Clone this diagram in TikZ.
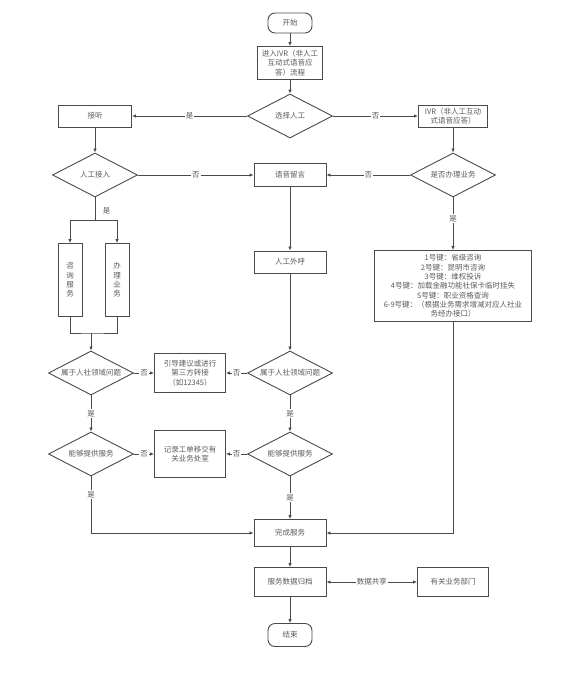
\documentclass[tikz,border=0pt]{standalone}
\usepackage{fontspec}
\setmainfont{Noto Sans CJK SC}
\usetikzlibrary{arrows.meta, shapes.geometric}
\definecolor{linegray}{HTML}{4A4A4A}
\definecolor{textgray}{HTML}{5A5A5A}
\newcommand{\dtext}[1]{\makebox[0pt]{#1}}
\tikzset{
    box/.style={draw=linegray, line width=0.9pt, text=textgray, align=center, inner sep=1pt},
    terminal/.style={box, rounded corners=7pt},
    decision/.style={diamond, draw=linegray, line width=0.9pt, text=textgray, inner sep=0pt,
        minimum width=85pt, minimum height=44pt},
    flow/.style={draw=linegray, line width=0.9pt, -{Latex[length=4pt, width=3.5pt]}},
    link/.style={draw=linegray, line width=0.9pt},
    edgetag/.style={fill=white, text=textgray, inner sep=1pt},
    common settings/.style={
        x=1pt, y=-1pt,
        font=\fontsize{7.5}{9.3}\selectfont
    }
}
\begin{document}
\begin{tikzpicture}[common settings]

    % Canvas
    \useasboundingbox (0,0) rectangle (584,679);

    % 1. Entry
    \node[terminal, minimum width=44pt, minimum height=20pt] (start) at (290,23) {开始};
    \node[box, minimum width=65pt, minimum height=33pt] (ivrflow) at (290,63)
        {进入IVR（非人工\\互动式语音应\\答）流程};
    \node[decision] (askagent) at (290,116) {\dtext{选择人工}};

    % 2. Second row
    \node[box, minimum width=73pt, minimum height=22pt] (answer) at (95,116) {接听};
    \node[box, minimum width=69pt, minimum height=22pt] (ivr) at (453,116)
        {IVR（非人工互动\\式语音应答）};

    % 3. Third row
    \node[decision] (connected) at (95,175) {\dtext{人工接入}};
    \node[box, minimum width=72pt, minimum height=23pt] (voicemail) at (290,175) {语音留言};
    \node[decision] (handlebiz) at (453,175) {\dtext{是否办理业务}};

    % 4. Services and menu
    \node[box, minimum width=24pt, minimum height=73pt] (consult) at (70,280) {咨\\询\\服\\务};
    \node[box, minimum width=24pt, minimum height=73pt] (handle) at (117,280) {办\\理\\业\\务};
    \node[box, minimum width=72pt, minimum height=22pt] (callback) at (290,262) {人工外呼};
    \node[box, minimum width=157pt, minimum height=71pt] (keys) at (453,286)
        {1号键：省级咨询\\2号键：昆明市咨询\\3号键：维权投诉\\
         4号键：加载金融功能社保卡临时挂失\\5号键：职业资格查询\\
         6-9号键：（根据业务需求增减对应人社业\\务经办接口）};

    % 5. Checks
    \node[decision] (scopeL) at (91,373) {\dtext{属于人社领域问题}};
    \node[box, minimum width=71pt, minimum height=39pt] (referral) at (190,373)
        {引导建议或进行\\第三方转接\\（如12345）};
    \node[decision] (scopeR) at (290,373) {\dtext{属于人社领域问题}};

    \node[decision] (serveL) at (91,454) {\dtext{能够提供服务}};
    \node[box, minimum width=71pt, minimum height=47pt] (ticket) at (190,454)
        {记录工单移交有\\关业务处室};
    \node[decision] (serveR) at (290,454) {\dtext{能够提供服务}};

    % 6. Closing
    \node[box, minimum width=72pt, minimum height=27pt] (done) at (290,533) {完成服务};
    \node[box, minimum width=72pt, minimum height=29pt] (archive) at (290,582) {服务数据归档};
    \node[box, minimum width=71pt, minimum height=29pt] (dept) at (453,582) {有关业务部门};
    \node[terminal, minimum width=44pt, minimum height=23pt] (finish) at (290,635) {结束};

    % 7. Connectors
    \draw[flow] (start) -- (ivrflow);
    \draw[flow] (ivrflow) -- (askagent);
    \draw[flow] (askagent) -- node[edgetag] {是} (answer);
    \draw[flow] (askagent) -- node[edgetag] {否} (ivr);
    \draw[flow] (ivr) -- (handlebiz);
    \draw[flow] (answer) -- (connected);
    \draw[flow] (connected) -- node[edgetag] {否} (voicemail);
    \draw[flow] (handlebiz) -- node[edgetag] {否} (voicemail);
    \draw[flow] (handlebiz) -- node[edgetag, pos=0.4] {是} (keys);
    \draw[flow] (voicemail) -- (callback);
    \draw[flow] (callback) -- (scopeR);

    % split into the two service boxes and merge again
    \coordinate (split) at (95,220);
    \coordinate (merge) at (91,333);
    \draw[link] (connected) -- node[anchor=west, text=textgray, pos=0.6, xshift=4pt] {是} (split);
    \draw[flow] (split) -| (consult);
    \draw[flow] (split) -| (handle);
    \draw[link] (consult) |- (merge) -| (handle);
    \draw[flow] (merge) -- (scopeL);

    \draw[flow] (scopeL) -- node[edgetag] {否} (referral);
    \draw[flow] (scopeR) -- node[edgetag] {否} (referral);
    \draw[flow] (scopeL) -- node[edgetag] {是} (serveL);
    \draw[flow] (scopeR) -- node[edgetag] {是} (serveR);
    \draw[flow] (serveL) -- node[edgetag] {否} (ticket);
    \draw[flow] (serveR) -- node[edgetag] {否} (ticket);
    \draw[flow] (serveL) |- node[edgetag, pos=0.16] {是} (done);
    \draw[flow] (serveR) -- node[edgetag] {是} (done);
    \draw[flow] (keys) |- (done);
    \draw[flow] (done) -- (archive);
    \draw[flow, {Latex[length=4pt, width=3.5pt]}-{Latex[length=4pt, width=3.5pt]}]
        (archive) -- node[edgetag] {数据共享} (dept);
    \draw[flow] (archive) -- (finish);

\end{tikzpicture}
\end{document}
